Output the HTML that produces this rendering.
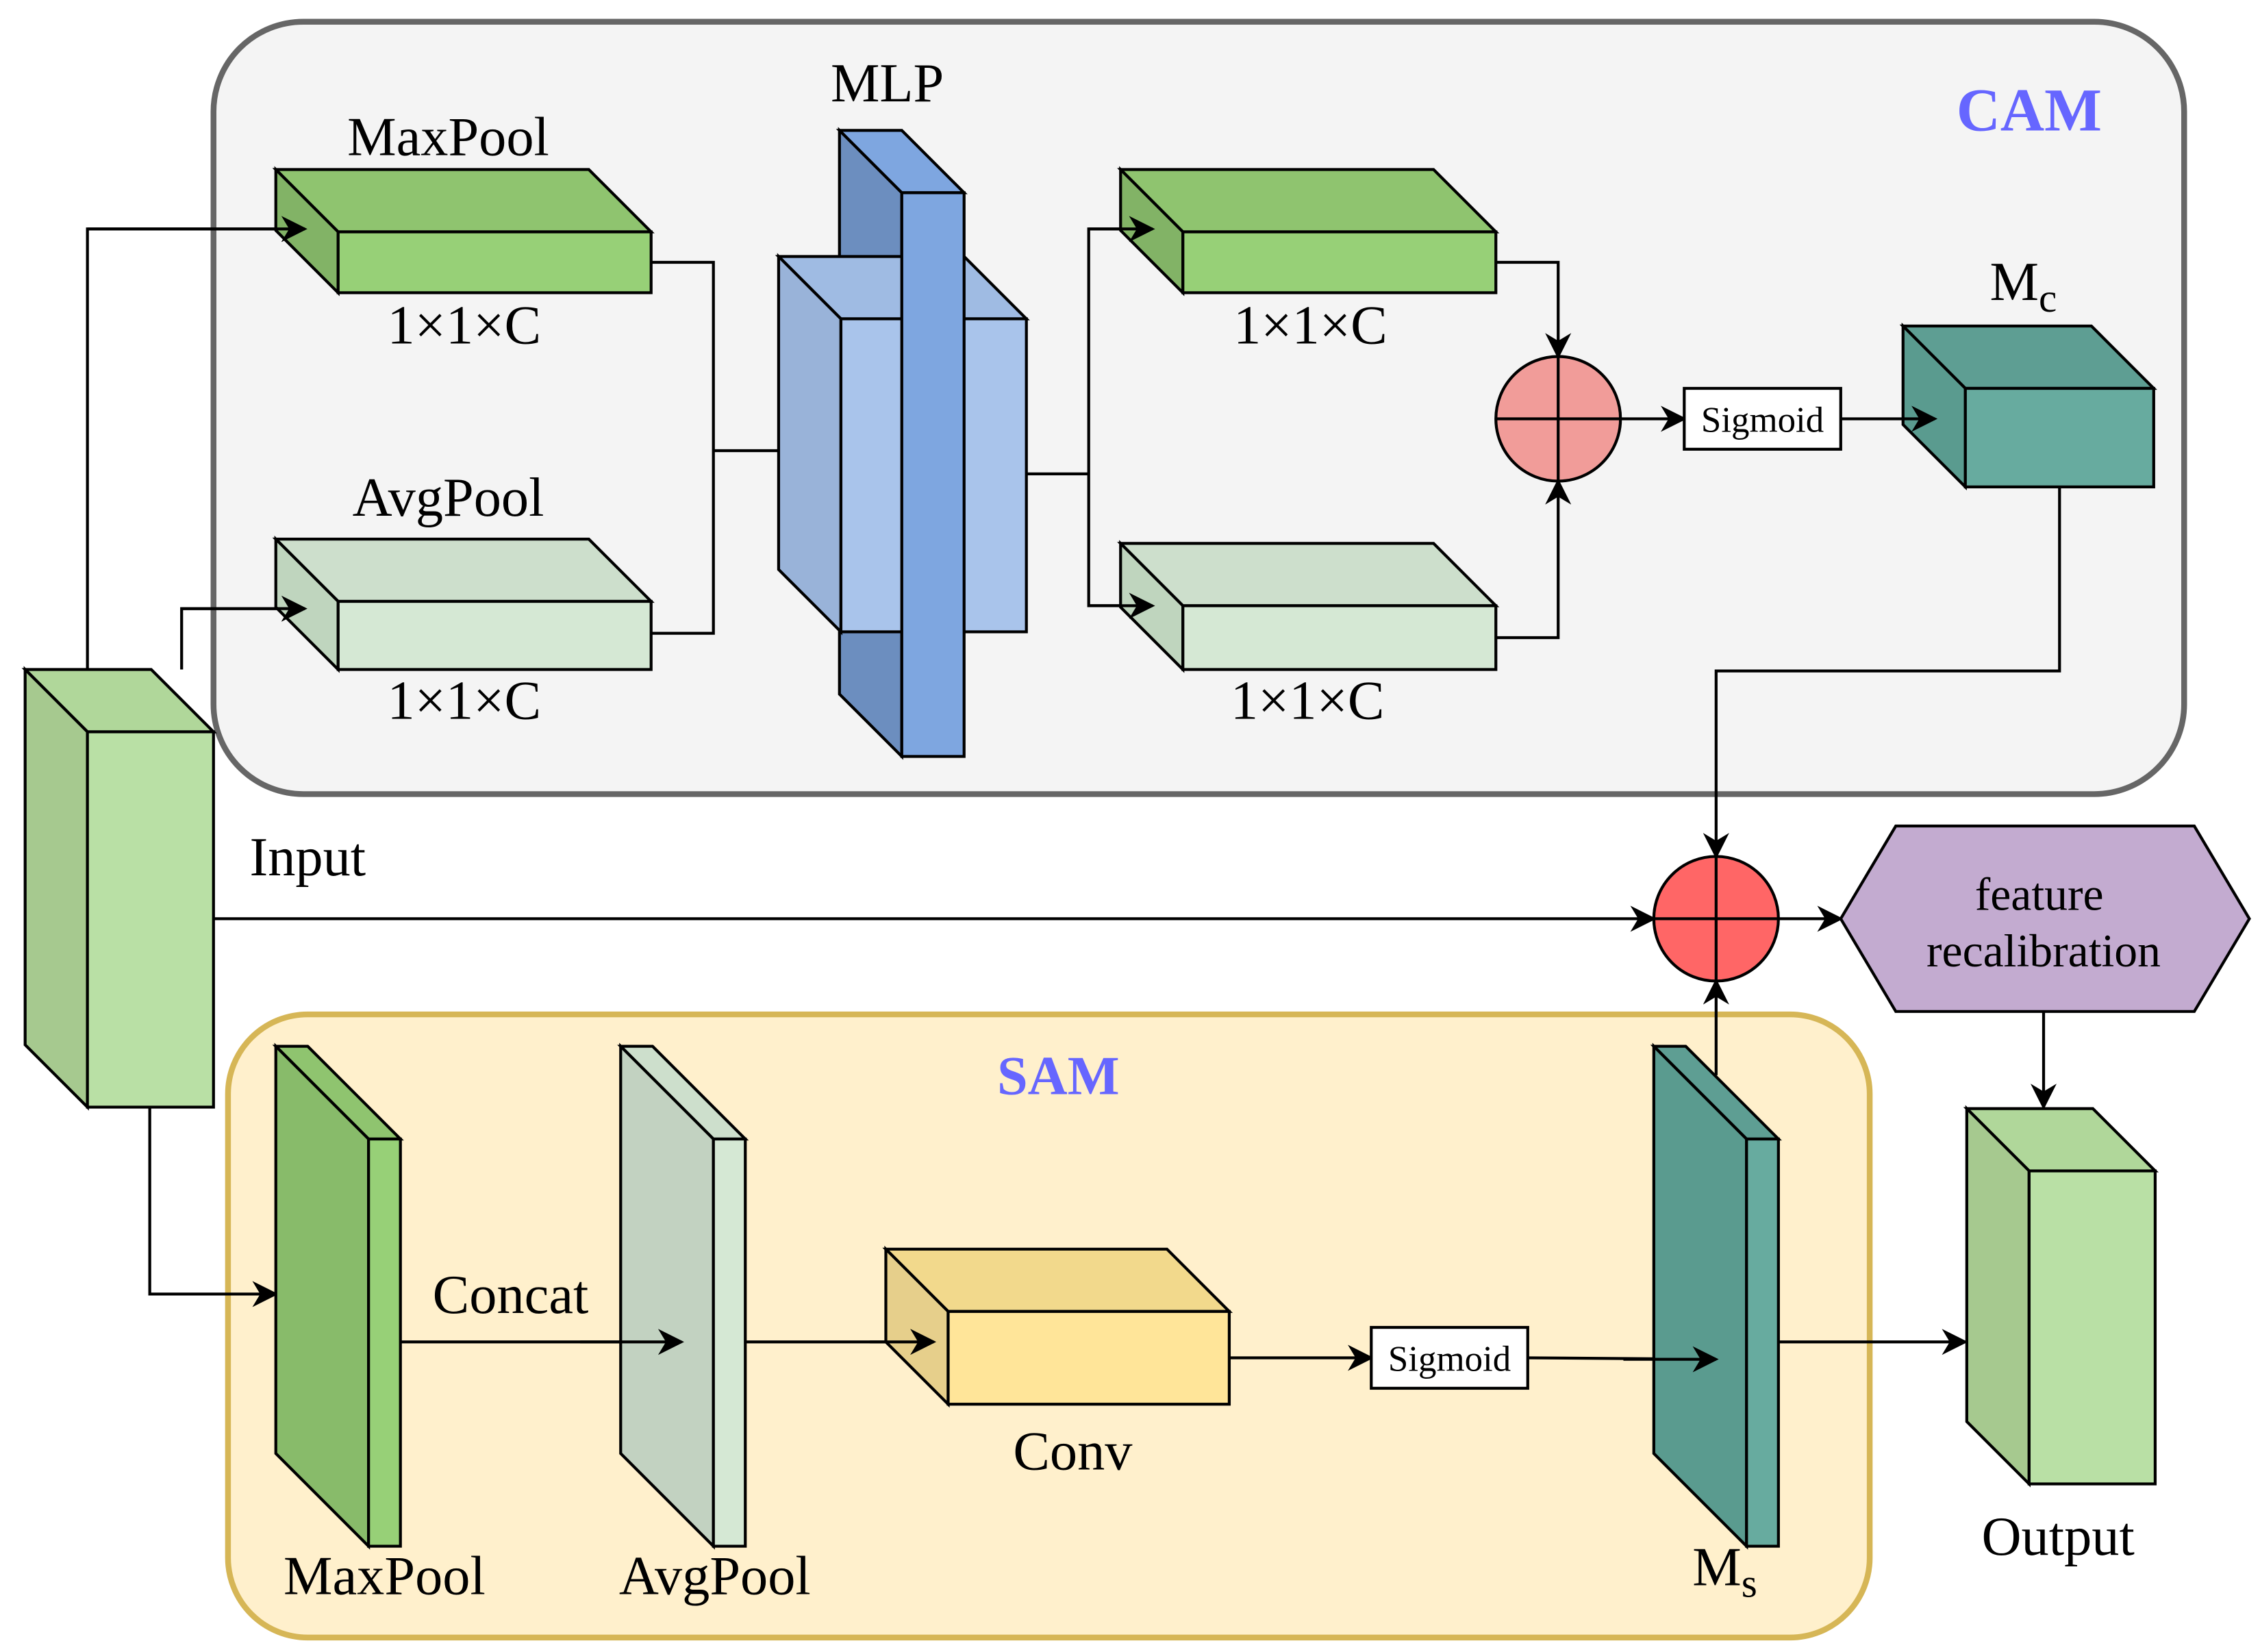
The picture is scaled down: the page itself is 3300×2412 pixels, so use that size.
<!DOCTYPE html>
<html><head><meta charset="utf-8"><style>html,body{margin:0;padding:0;background:#fff}svg{display:block}</style></head>
<body>
<svg width="3300" height="2412" viewBox="0 0 1559 1140" xmlns="http://www.w3.org/2000/svg" font-family="'Liberation Serif', serif">
<defs>
<marker id="b" viewBox="0 0 10 10" refX="9" refY="5" markerWidth="18" markerHeight="18" orient="auto" markerUnits="userSpaceOnUse"><path d="M0,0 L10,5 L0,10 L3,5 z" fill="#000"/></marker>
</defs>
<rect x="147" y="15" width="1360" height="533" rx="62" fill="#f4f4f4" stroke="#666" stroke-width="4"/>
<rect x="157" y="700" width="1133" height="430" rx="55" fill="#fff0cc" stroke="#d6b656" stroke-width="4"/>
<g stroke="#000" stroke-width="2" fill="none">
<polyline points="60,462 60,158 210,158" marker-end="url(#b)"/>
<polyline points="125,462 125,420 210,420" marker-end="url(#b)"/>
<polyline points="449,181 492,181 492,437 449,437"/>
<line x1="492" y1="311" x2="537" y2="311"/>
<line x1="708" y1="327" x2="751" y2="327"/>
<polyline points="795,158 751,158 751,418 795,418"/>
<polyline points="1032,181 1075,181 1075,246" marker-end="url(#b)"/>
<polyline points="1032,440 1075,440 1075,332" marker-end="url(#b)"/>
<line x1="1118" y1="289" x2="1162" y2="289" marker-end="url(#b)"/>
<polyline points="1421,336 1421,463 1184,463 1184,591" marker-end="url(#b)"/>
<line x1="147" y1="634" x2="1141" y2="634" marker-end="url(#b)"/>
<line x1="1227" y1="634" x2="1270" y2="634" marker-end="url(#b)"/>
<line x1="1410" y1="698" x2="1410" y2="764" marker-end="url(#b)"/>
<polyline points="103,764 103,893 190,893" marker-end="url(#b)"/>
<line x1="276" y1="926" x2="470" y2="926"/>
<line x1="514" y1="926" x2="644" y2="926"/>
<line x1="848" y1="937" x2="946" y2="937" marker-end="url(#b)"/>
<line x1="1054" y1="937" x2="1184" y2="938"/>
<line x1="1227" y1="926" x2="1356" y2="926" marker-end="url(#b)"/>
</g>
<g stroke="#000" stroke-width="2">
<polygon points="190,117 406,117 449,160 233,160" fill="#8fc46f"/><polygon points="190,117 233,160 233,202 190,159" fill="#82b366"/><rect x="233" y="160" width="216" height="42" fill="#97d077"/>
<polygon points="190,372 406,372 449,415 233,415" fill="#cddfcc"/><polygon points="190,372 233,415 233,462 190,419" fill="#bfd5be"/><rect x="233" y="415" width="216" height="47" fill="#d5e8d4"/>
<polygon points="579,90 622,133 622,522 579,479" fill="#6c8ebf"/>
<polygon points="537,177 665,177 708,220 580,220" fill="#9fbbe3"/><polygon points="537,177 580,220 580,436 537,393" fill="#99b3d9"/><rect x="580" y="220" width="128" height="216" fill="#a9c4eb"/>
<polygon points="579,90 622,90 665,133 622,133" fill="#7ea6e0"/><rect x="622" y="133" width="43" height="389" fill="#7ea6e0"/>
<polygon points="773,117 989,117 1032,160 816,160" fill="#8fc46f"/><polygon points="773,117 816,160 816,202 773,159" fill="#82b366"/><rect x="816" y="160" width="216" height="42" fill="#97d077"/>
<polygon points="773,375 989,375 1032,418 816,418" fill="#cddfcc"/><polygon points="773,375 816,418 816,462 773,419" fill="#bfd5be"/><rect x="816" y="418" width="216" height="44" fill="#d5e8d4"/>
<circle cx="1075" cy="289" r="43" fill="#f19c99"/><line x1="1032" y1="289" x2="1118" y2="289"/><line x1="1075" y1="246" x2="1075" y2="332"/>
<rect x="1162" y="268" width="108" height="42" fill="#fff"/>
<polygon points="1313,225 1443,225 1486,268 1356,268" fill="#5e9e93"/><polygon points="1313,225 1356,268 1356,336 1313,293" fill="#5a9b8f"/><rect x="1356" y="268" width="130" height="68" fill="#67ab9f"/>
<polygon points="17,462 104,462 147,505 60,505" fill="#b0d79a"/><polygon points="17,462 60,505 60,764 17,721" fill="#a6c98f"/><rect x="60" y="505" width="87" height="259" fill="#b9e0a5"/>
<circle cx="1184" cy="634" r="43" fill="#ff6666"/><line x1="1141" y1="634" x2="1227" y2="634"/><line x1="1184" y1="591" x2="1184" y2="677"/>
<polygon points="1270,634 1308,570 1514,570 1552,634 1514,698 1308,698" fill="#c3abd0"/>
<polygon points="1357,765 1444,765 1487,808 1400,808" fill="#b0d79a"/><polygon points="1357,765 1400,808 1400,1024 1357,981" fill="#a6c98f"/><rect x="1400" y="808" width="87" height="216" fill="#b9e0a5"/>
<polygon points="190,722 212,722 276,786 254,786" fill="#8fc46f"/><polygon points="190,722 254,786 254,1067 190,1003" fill="#88bb6a"/><rect x="254" y="786" width="22" height="281" fill="#97d077"/>
<polygon points="428,722 450,722 514,786 492,786" fill="#cddfcc"/><polygon points="428,722 492,786 492,1067 428,1003" fill="#c2d2c1"/><rect x="492" y="786" width="22" height="281" fill="#d5e8d4"/>
<polygon points="611,862 805,862 848,905 654,905" fill="#f2d98c"/><polygon points="611,862 654,905 654,969 611,926" fill="#e6cf8b"/><rect x="654" y="905" width="194" height="64" fill="#ffe599"/>
<rect x="946" y="916" width="108" height="42" fill="#fff"/>
<polygon points="1141,722 1163,722 1227,786 1205,786" fill="#5e9e93"/><polygon points="1141,722 1205,786 1205,1067 1141,1003" fill="#5a9b8f"/><rect x="1205" y="786" width="22" height="281" fill="#67ab9f"/>
</g>
<g stroke="#000" stroke-width="2" fill="none">
<line x1="1184" y1="742" x2="1184" y2="677" marker-end="url(#b)"/>
<line x1="751" y1="158" x2="795" y2="158" marker-end="url(#b)"/>
<line x1="751" y1="418" x2="795" y2="418" marker-end="url(#b)"/>
<line x1="125" y1="420" x2="210" y2="420" marker-end="url(#b)"/>
<line x1="60" y1="158" x2="210" y2="158" marker-end="url(#b)"/>
<line x1="400" y1="926" x2="470" y2="926" marker-end="url(#b)"/>
<line x1="600" y1="926" x2="644" y2="926" marker-end="url(#b)"/>
<line x1="1120" y1="938" x2="1184" y2="938" marker-end="url(#b)"/>
<line x1="1270" y1="289" x2="1335" y2="289" marker-end="url(#b)"/>
</g>
<g font-size="38" fill="#000" text-anchor="middle">
<text x="309" y="107">MaxPool</text>
<text x="320" y="237">1×1×C</text>
<text x="309" y="356">AvgPool</text>
<text x="320" y="496">1×1×C</text>
<text x="612" y="70">MLP</text>
<text x="904" y="237">1×1×C</text>
<text x="902" y="496">1×1×C</text>
<text x="1396" y="207">M<tspan font-size="28" dy="8">c</tspan></text>
<text x="212" y="604">Input</text>
<text x="1407" y="628" font-size="32">feature</text>
<text x="1410" y="667" font-size="32">recalibration</text>
<text x="352" y="906">Concat</text>
<text x="265" y="1100">MaxPool</text>
<text x="493" y="1100">AvgPool</text>
<text x="740" y="1014">Conv</text>
<text x="1190" y="1094">M<tspan font-size="28" dy="8">s</tspan></text>
<text x="1420" y="1073">Output</text>
<text x="1216" y="298" font-size="25">Sigmoid</text>
<text x="1000" y="946" font-size="25">Sigmoid</text>
<text x="1400" y="90" font-size="42" font-weight="bold" fill="#6666ff">CAM</text>
<text x="730" y="755" font-size="38" font-weight="bold" fill="#6666ff">SAM</text>
</g>
</svg>
</body></html>
